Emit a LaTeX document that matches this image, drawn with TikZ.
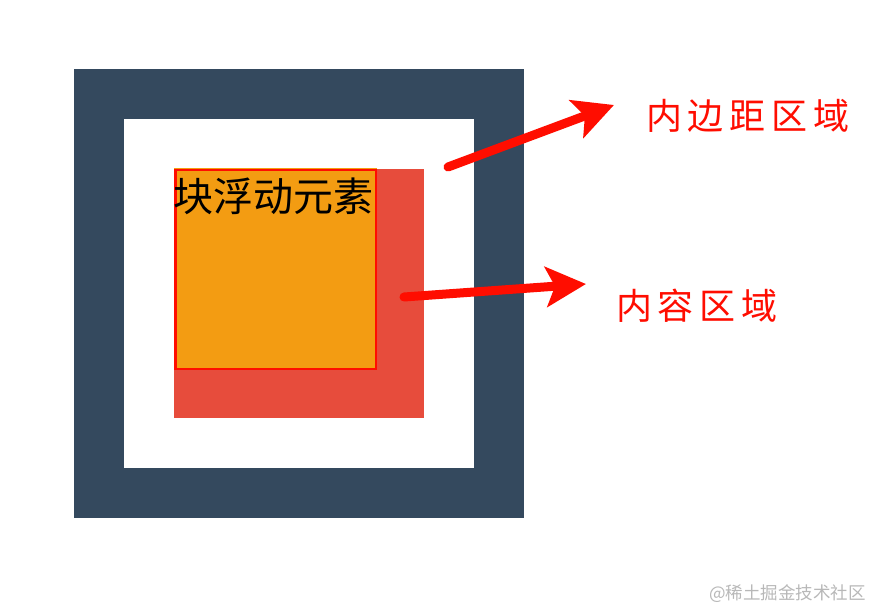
\documentclass[tikz,border=0pt]{standalone}
\usepackage{fontspec}
\newfontfamily\cjk{Noto Sans CJK SC}
\newfontfamily\cjkspaced[LetterSpace=16]{Noto Sans CJK SC}
\usetikzlibrary{arrows.meta}
\definecolor{darkblue}{HTML}{34495E}
\definecolor{boxred}{HTML}{E74C3C}
\definecolor{boxorange}{HTML}{F39C12}
\definecolor{markred}{HTML}{FF0D00}
\definecolor{wmgray}{HTML}{B8B8B8}
\tikzset{
  block/.style={inner sep=0pt, outer sep=0pt, draw=none},
  pointer/.style={draw=markred, line width=9pt, line cap=round,
    -{Stealth[length=40pt, width=40pt, inset=9pt]}},
  label/.style={text=markred, inner sep=0pt, anchor=base west, font=\cjkspaced\fontsize{36}{40}\selectfont},
}
\begin{document}
\begin{tikzpicture}[x=1pt, y=-1pt]
\useasboundingbox[fill=white] (0,0) rectangle (876,610);
% boxes
\node[block, fill=darkblue, minimum width=450pt, minimum height=449pt, anchor=north west] (outer) at (74,69) {};
\node[block, fill=white, minimum width=350pt, minimum height=349pt, anchor=north west] (inner) at (124,119) {};
\node[block, fill=boxred, minimum width=250pt, minimum height=249pt, anchor=north west] (content) at (174,169) {};
\node[block, fill=boxorange, minimum width=203pt, minimum height=201pt, anchor=north west] (floatbox) at (174,168) {};
\draw[markred, line width=2.5pt] (175.3,170) rectangle (376,369);
\node[inner sep=0pt, anchor=base west, font=\cjk\fontsize{40}{44}\selectfont] (floattext) at (173.5,211) {块浮动元素};
% labels
\node[label] (padlabel) at (646,129) {内边距区域};
\node[label] (contentlabel) at (616,319) {内容区域};
% arrows
\coordinate (a1s) at (448,167);
\coordinate (a1e) at (614,105);
\coordinate (a2s) at (404,297);
\coordinate (a2e) at (586,284);
\draw[pointer] (a1s) -- (a1e);
\draw[pointer] (a2s) -- (a2e);
% watermark
\node[inner sep=0pt, anchor=base west, text=wmgray, font=\cjk\fontsize{17.5}{20}\selectfont] (wm) at (709,599) {@稀土掘金技术社区};
\end{tikzpicture}
\end{document}
